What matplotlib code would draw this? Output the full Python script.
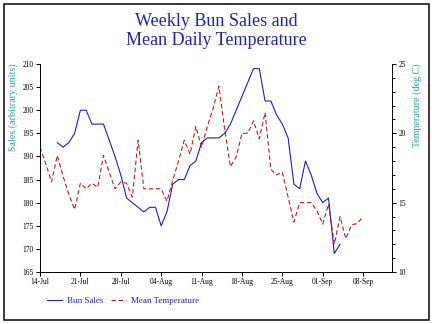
import matplotlib
matplotlib.use("Agg")
import matplotlib.pyplot as plt
import matplotlib.dates as mdates
from matplotlib.patches import Rectangle
import pandas as pd

# ---- data ----
sales_start = "2014-07-17"
sales = [193, 192, 193, 195, 200, 200, 197, 197, 197, 193.5,
         190, 186, 181, 180, 179, 178, 179, 179, 175, 178,
         184, 185, 185, 188, 189, 193, 194, 194, 194, 195,
         197, 200, 203, 206, 209, 209, 202, 202, 199, 197,
         194, 184, 183, 189, 186, 182, 180, 181, 169, 171]

temp_start = "2014-07-14"
temperature = [19.0, 17.8, 16.5, 18.4, 16.9, 15.6, 14.5, 16.4, 16.0, 16.4,
               16.1, 18.4, 17.2, 16.0, 16.5, 16.4, 15.4, 19.5, 16.0, 16.0,
               16.0, 16.0, 15.1, 16.6, 18.0, 19.5, 18.5, 20.5, 19.0, 20.5,
               21.8, 23.4, 20.3, 17.6, 18.3, 20.0, 20.0, 20.9, 19.6, 21.5,
               17.4, 17.0, 17.2, 15.4, 13.6, 15.0, 15.0, 15.0, 14.4, 13.45,
               14.9, 12.0, 14.0, 12.4, 13.4, 13.5, 14.0]

x_start = "2014-07-14"
x_end = "2014-09-13"
tick_dates = pd.date_range("2014-07-14", "2014-09-08", freq="7D")

title = "Weekly Bun Sales and\nMean Daily Temperature"
sales_label = "Sales (arbitrary units)"
temp_label = "Temperature (deg C)"
series_names = ["Bun Sales", "Mean Temperature"]

# ---- style ----
SERIF = ["Liberation Serif", "DejaVu Serif"]
plt.rcParams["font.family"] = SERIF
BLUE = "#1f1f9e"
RED = "#a82020"
TEAL = "#2e9e9e"
TITLE_C = "#24249c"
W, H = 432, 324

fig = plt.figure(figsize=(6, 4.5), dpi=72)
ax = fig.add_axes([40 / W, 1 - 272 / H, (392 - 40) / W, (272 - 64) / H])
ax2 = ax.twinx()

sd = pd.date_range(sales_start, periods=len(sales), freq="D")
td = pd.date_range(temp_start, periods=len(temperature), freq="D")

l1, = ax.plot(sd, sales, color=BLUE, lw=1.1, label=series_names[0])
l2, = ax2.plot(td, temperature, color=RED, lw=1.1, dashes=(4, 2.5),
               label=series_names[1])

ax.set_xlim(pd.Timestamp(x_start), pd.Timestamp(x_end))
ax.set_ylim(165, 210)
ax2.set_ylim(10, 25)
ax.set_yticks(range(165, 211, 5))
ax2.set_yticks(range(10, 26, 5))
ax2.set_yticks(range(10, 26, 1), minor=True)
ax.set_xticks(tick_dates)
ax.xaxis.set_major_formatter(mdates.DateFormatter("%d-%b"))

for a in (ax, ax2):
    a.spines["top"].set_visible(False)
    for s in a.spines.values():
        s.set_linewidth(1.0)
    a.tick_params(which="both", direction="out", labelsize=7.5, width=1.0,
                  colors="black")
    a.tick_params(which="major", length=4, pad=2.5)
    a.tick_params(which="minor", length=3)
ax.patch.set_visible(False)

# title
fig.text(0.5, 1 - 31 / H, title, ha="center", va="center", fontsize=18,
         color=TITLE_C, linespacing=1.2)

# axis labels
fig.text(13 / W, 1 - 63 / H, sales_label, rotation=90, ha="center",
         va="top", fontsize=10, color=TEAL)
fig.text(417 / W, 1 - 63 / H, temp_label, rotation=90, ha="center",
         va="top", fontsize=10, color=TEAL)

# legend
leg = fig.legend([l1, l2], series_names, loc="center left",
                 bbox_to_anchor=(47 / W, 1 - 301 / H), ncol=2, frameon=False,
                 fontsize=9, handlelength=1.65, handletextpad=0.55,
                 columnspacing=0.9, borderpad=0, borderaxespad=0)
for t in leg.get_texts():
    t.set_color(TITLE_C)

# frame
fig.patches.append(Rectangle((4 / W, 4 / H), (429 - 4) / W, (320 - 4) / H,
                             transform=fig.transFigure, fill=False,
                             edgecolor="black", lw=1.5))

fig.savefig("out.png", dpi=72)
